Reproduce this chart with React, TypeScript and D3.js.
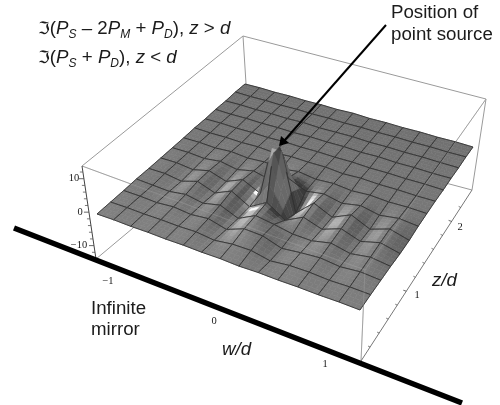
import { useEffect, useRef } from "react";
import * as d3 from "d3";

const W = 500;
const H = 405;

// surface heights, rows run from the back (z high) to the mirror (z = 0), columns w low -> high
const heights: number[][] = [
  [0, 0.1, 0, 0.1, 0, 0.1, 0, 0.2, 0, 0.1, 0, 0.1, 0, 0.1, 0],
  [0.1, 0, 0.1, 0, 0.1, 0, 0.1, 0, 0.1, 0, 0.1, 0, 0.1, 0, 0.1],
  [0, 0.1, 0, 0.1, 0, 0.2, 0, 0.1, 0.2, 0, 0.1, 0, 0.1, 0, 0],
  [0.1, 0, 0.1, 0, 0.1, 0, 0.2, 0.1, 0.2, 0, 0.2, 0, 0.1, 0, 0.1],
  [0, 0.1, 0, 0.1, 0, 0.2, 0.1, 0.2, 0.1, 0.2, 0, 0.1, 0, 0.1, 0],
  [0.1, 0, 0.1, 0, 0.2, -0.1, 0.3, 0.2, 0.3, -0.1, 0.2, 0, 0.1, 0, 0.1],
  [0, 0.1, -0.1, 0.3, -0.1, 0.3, -0.2, 0.6, -0.1, 0.3, -0.2, 0.2, -0.1, 0.1, 0],
  [0, 0.1, -0.2, 0.5, -0.4, 0.8, -0.4, 2, -0.3, 0.6, -0.5, 0.6, -0.5, 0.4, -0.1],
  [0, 0.1, -0.4, 0.9, -0.7, 1.5, -1, 20, -3.5, 1.4, -1.1, 1.5, -1, 1, -0.5],
  [0, 0.1, -0.6, 1, -0.8, 1.5, -1.5, 1.6, -2, 0.8, -1, 1.1, -0.8, 0.8, -0.5],
  [0.1, -0.1, -0.3, 0.5, -0.4, 0.8, -1.4, 1.3, 0.5, -0.5, -0.6, 0.7, -0.5, 0.5, -0.2],
  [0, 0, -0.2, 0.3, -0.2, 0.4, -1, 1.1, 0.9, -0.9, -0.2, 0.3, -0.3, 0.3, -0.1],
  [0, 0.1, 0, 0.1, 0, 0.2, -0.4, 0.4, 0.5, -0.6, 0.1, 0.2, -0.1, 0.1, 0],
  [0, 0.1, 0, 0.1, 0, 0.1, 0, 0.1, -0.1, 0.1, 0, 0.1, 0, 0.1, 0],
];

const wTicks = [-1, 0, 1];
const zMajor = [1, 2];
const zMinor = [0.2, 0.4, 0.6, 0.8, 1.2, 1.4, 1.6, 1.8, 2.2];
const hMajor = [-10, 0, 10];
const hMinor = [-12, -8, -6, -4, -2, 2, 4, 6, 8, 12];

type P = [number, number];

// screen corners of the box: left, front, right, back
const base: P[] = [[96, 259], [361, 361], [472, 190], [249, 131]];
const top: P[] = [[82, 166], [365, 270], [486, 99], [243, 36]];
// corners of the h = 0 sheet
const sheet: P[] = [[97, 214], [360, 310], [473, 147], [245, 84]];

const CLIP = 14;
const SUB = 4;

const lerp = (a: P, b: P, t: number): P => [a[0] + (b[0] - a[0]) * t, a[1] + (b[1] - a[1]) * t];

// square -> quad perspective map, the box is seen in perspective
function homography(q: P[]) {
  const [[x0, y0], [x1, y1], [x2, y2], [x3, y3]] = q;
  const dx1 = x1 - x2;
  const dx2 = x3 - x2;
  const sx = x0 - x1 + x2 - x3;
  const dy1 = y1 - y2;
  const dy2 = y3 - y2;
  const sy = y0 - y1 + y2 - y3;
  const den = dx1 * dy2 - dx2 * dy1;
  const g = (sx * dy2 - dx2 * sy) / den;
  const h = (dx1 * sy - sx * dy1) / den;
  const a = x1 - x0 + g * x1;
  const b = x3 - x0 + h * x3;
  const d = y1 - y0 + g * y1;
  const e = y3 - y0 + h * y3;
  return (u: number, v: number): P => {
    const w = g * u + h * v + 1;
    return [(a * u + b * v + x0) / w, (d * u + e * v + y0) / w];
  };
}

const sheetAt = homography(sheet);
const baseAt = homography(base);
const topAt = homography(top);

const zScale = d3.scaleLinear().domain([0, 2.45]).range([0, 1]);
const hScale = d3.scaleLinear().domain([-14, 13.8]).range([0, 1]);

const nz = heights.length - 1;
const nw = heights[0].length - 1;
const colScale = d3.scaleLinear().domain([0, nw]).range([0, 1]);
const rowScale = d3.scaleLinear().domain([0, nz]).range([0, 1]);
const hAt = (i: number, j: number) => heights[nz - j][i];

function project(x: number, y: number, h: number): P {
  const u = colScale(x);
  const v = rowScale(y);
  const p = sheetAt(u, v);
  const b = baseAt(u, v);
  const t = topAt(u, v);
  const k = h / (hScale.domain()[1] - hScale.domain()[0]);
  return [p[0] + (t[0] - b[0]) * k, p[1] + (t[1] - b[1]) * k];
}

function bilinH(x: number, y: number) {
  const i = Math.min(Math.floor(x), nw - 1);
  const j = Math.min(Math.floor(y), nz - 1);
  const s = x - i;
  const t = y - j;
  const a = hAt(i, j) * (1 - s) + hAt(i + 1, j) * s;
  const b = hAt(i, j + 1) * (1 - s) + hAt(i + 1, j + 1) * s;
  return a * (1 - t) + b * t;
}

// slopes per cell, blended between cell centres so the shading stays smooth
function cellSlope(i: number, j: number): P {
  const ci = Math.max(0, Math.min(nw - 1, i));
  const cj = Math.max(0, Math.min(nz - 1, j));
  const sw = (hAt(ci + 1, cj) - hAt(ci, cj) + hAt(ci + 1, cj + 1) - hAt(ci, cj + 1)) / 2;
  const sz = (hAt(ci, cj + 1) - hAt(ci, cj) + hAt(ci + 1, cj + 1) - hAt(ci + 1, cj)) / 2;
  return [sw, sz];
}

function slopeAt(x: number, y: number): P {
  const fx = x - 0.5;
  const fy = y - 0.5;
  const i = Math.floor(fx);
  const j = Math.floor(fy);
  const s = fx - i;
  const t = fy - j;
  const a = lerp(cellSlope(i, j), cellSlope(i + 1, j), s);
  const b = lerp(cellSlope(i, j + 1), cellSlope(i + 1, j + 1), s);
  return lerp(a, b, t);
}

function shade(x: number, y: number) {
  const [sw, sz] = slopeAt(x, y);
  const c = 4;
  const len = Math.hypot(sw, sz, c);
  const dot = (0.6 * sw + 0.2 * sz + 0.77 * c) / len;
  const spec = Math.pow(Math.max(dot, 0), 24) * 125;
  const front = 1 - rowScale(y);
  const lit = 42 + 14 * front + 92 * Math.max(dot, 0) + spec;
  // the walls of the spike stay mid grey
  const steep = Math.max(0, Math.min(1, (len - 7) / 5));
  const g = lit + (105 - lit) * steep;
  const v = Math.round(Math.max(58, Math.min(250, g)));
  return d3.rgb(v, v, v).formatHex();
}

export default function App() {
  const svgRef = useRef<SVGSVGElement>(null);

  useEffect(() => {
    const root = d3.select(svgRef.current);
    root.selectAll("*").remove();
    root
      .append("defs")
      .append("filter")
      .attr("id", "soft")
      .append("feGaussianBlur")
      .attr("stdDeviation", 0.35);
    const svg = root.append("g").attr("filter", "url(#soft)");
    const line = d3.line();

    const seg = (a: P, b: P, color = "#9a9a9a", width = 1, opacity = 1) =>
      svg
        .append("path")
        .attr("d", line([a, b]))
        .attr("fill", "none")
        .attr("stroke", color)
        .attr("stroke-width", width)
        .attr("opacity", opacity);

    // box edges behind the surface
    seg(top[0], top[3]);
    seg(top[3], top[2]);
    seg(top[2], base[2]);
    seg(top[3], lerp(top[3], base[3], 0.55));
    seg(base[0], lerp(base[0], base[3], 0.25));
    seg(base[2], lerp(base[2], base[3], 0.12));
    seg(top[2], top[1]);
    seg(top[0], top[1]);
    seg(base[1], top[1]);

    const g = svg.append("g");
    const drawEdge = (pts: P[]) => {
      if (pts.length < 2) return;
      g.append("path")
        .attr("d", line(pts))
        .attr("fill", "none")
        .attr("stroke", "#2e2e2e")
        .attr("stroke-width", 1)
        .attr("opacity", 0.85);
    };
    const edge = (x0: number, y0: number, x1: number, y1: number) => {
      const pts: P[] = [];
      for (let k = 0; k <= SUB; k++) {
        const x = x0 + ((x1 - x0) * k) / SUB;
        const y = y0 + ((y1 - y0) * k) / SUB;
        const h = bilinH(x, y);
        if (h > CLIP) {
          drawEdge(pts.splice(0));
        } else {
          pts.push(project(x, y, h));
        }
      }
      drawEdge(pts);
    };

    // painter's order: far rows first, low w first
    for (let j = nz - 1; j >= 0; j--) {
      for (let i = 0; i < nw; i++) {
        for (let b = SUB - 1; b >= 0; b--) {
          for (let a = 0; a < SUB; a++) {
            const xs = [i + a / SUB, i + (a + 1) / SUB, i + (a + 1) / SUB, i + a / SUB];
            const ys = [j + b / SUB, j + b / SUB, j + (b + 1) / SUB, j + (b + 1) / SUB];
            const hs = xs.map((x, k) => bilinH(x, ys[k]));
            if (hs.every((h) => h >= CLIP)) continue;
            const pts = xs.map((x, k) => project(x, ys[k], Math.min(hs[k], CLIP)));
            const color = shade(i + (a + 0.5) / SUB, j + (b + 0.5) / SUB);
            g.append("path")
              .attr("d", line(pts as P[]) + "Z")
              .attr("fill", color)
              .attr("stroke", color)
              .attr("stroke-width", 0.6);
          }
        }
        edge(i, j + 1, i + 1, j + 1);
        edge(i + 1, j, i + 1, j + 1);
        edge(i, j, i, j + 1);
        edge(i, j, i + 1, j);
      }
    }

    // box edges seen faintly through the surface
    seg(top[0], top[1], "#b8b8b8", 0.8, 0.35);
    seg(top[2], top[1], "#b8b8b8", 0.8, 0.35);
    seg(base[1], top[1], "#b8b8b8", 0.8, 0.35);

    // height axis
    const hPos = (h: number) => lerp(base[0], top[0], hScale(h));
    seg(base[0], top[0], "#444", 1);
    hMajor.forEach((h) => {
      const p = hPos(h);
      seg(p, [p[0] - 5, p[1]], "#444", 0.8);
    });
    hMinor.forEach((h) => {
      const p = hPos(h);
      seg(p, [p[0] - 3, p[1]], "#444", 0.7);
    });

    // z axis
    const zPos = (z: number) => lerp(base[1], base[2], zScale(z));
    seg(base[1], base[2], "#777", 1);
    zMajor.forEach((z) => {
      const p = zPos(z);
      seg(p, [p[0] - 3, p[1] - 1], "#444", 0.8);
    });
    zMinor.forEach((z) => {
      const p = zPos(z);
      seg(p, [p[0] - 2, p[1] - 1], "#444", 0.7);
    });

    // mirror
    seg([14, 228], [462, 403], "#000", 5.5);

    // arrow to the source
    seg([386, 25], [284, 141], "#000", 2);
    svg
      .append("path")
      .attr("d", line([[279, 146], [281, 136], [289, 143]]) + "Z")
      .attr("fill", "#000");

    const sans = "'Liberation Sans', Arial, sans-serif";
    const serif = "'Liberation Serif', 'Times New Roman', serif";
    const label = (x: number, y: number, text: string, size: number, family = sans, italic = false, anchor = "start") =>
      svg
        .append("text")
        .attr("x", x)
        .attr("y", y)
        .attr("font-size", size)
        .attr("font-family", family)
        .attr("font-style", italic ? "italic" : "normal")
        .attr("text-anchor", anchor)
        .attr("fill", "#1a1a1a")
        .text(text);

    // tick labels
    const tickLabel = (x: number, y: number, t: string) => label(x, y, t, 10.5, serif, false, "middle");
    const wLabelPos: P[] = [[108, 284], [214, 324], [325, 367]];
    wTicks.forEach((w, i) => tickLabel(wLabelPos[i][0], wLabelPos[i][1], d3.format("d")(w).replace("-", "\u2212")));
    const zLabelPos: P[] = [[417, 298], [460, 230]];
    zMajor.forEach((z, i) => tickLabel(zLabelPos[i][0], zLabelPos[i][1], String(z)));
    const hLabelPos: P[] = [[79, 248], [80, 215], [74, 181]];
    hMajor.forEach((h, i) => tickLabel(hLabelPos[i][0], hLabelPos[i][1], String(h).replace("-", "\u2212")));

    // annotations
    label(391, 18, "Position of", 18.7);
    label(391, 40, "point source", 18.7);
    label(91, 314, "Infinite", 18.7);
    label(91, 335, "mirror", 18.7);
    label(222, 355, "w/d", 18.7, sans, true);
    label(432, 286, "z/d", 18.7, sans, true);

    // formulas with subscripts
    const formula = (x: number, y: number, parts: [string, string][]) => {
      const t = svg
        .append("text")
        .attr("x", x)
        .attr("y", y)
        .attr("font-size", 18.7)
        .attr("font-family", sans)
        .attr("fill", "#1a1a1a");
      parts.forEach(([kind, s]) => {
        const span = t.append("tspan").text(s);
        if (kind === "f") span.attr("font-family", "'DejaVu Sans'").attr("font-size", 17);
        if (kind === "i") span.attr("font-style", "italic");
        if (kind === "s") span.attr("font-style", "italic").attr("font-size", 12).attr("dy", 4);
        if (kind === "u") span.attr("dy", -4);
      });
    };
    formula(38, 34, [
      ["f", "\u2111"], ["n", "("], ["i", "P"], ["s", "S"], ["u", " \u2013 2"], ["i", "P"], ["s", "M"],
      ["u", " + "], ["i", "P"], ["s", "D"], ["u", "), "], ["i", "z"], ["n", " > "], ["i", "d"],
    ]);
    formula(38, 63, [
      ["f", "\u2111"], ["n", "("], ["i", "P"], ["s", "S"], ["u", " + "], ["i", "P"], ["s", "D"],
      ["u", "), "], ["i", "z"], ["n", " < "], ["i", "d"],
    ]);
  }, []);

  return (
    <svg
      ref={svgRef}
      width={W}
      height={H}
      style={{ position: "absolute", left: 0, top: 0, background: "#fff" }}
    />
  );
}
